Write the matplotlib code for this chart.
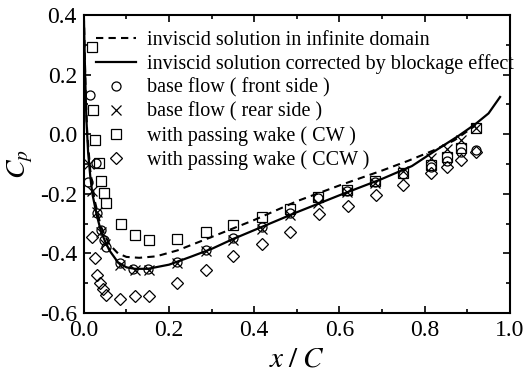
import matplotlib
matplotlib.use("Agg")
import matplotlib.pyplot as plt
from matplotlib.ticker import MultipleLocator

plt.rcParams["font.family"] = ["Liberation Serif", "DejaVu Serif"]
plt.rcParams["mathtext.fontset"] = "stix"

# inviscid solution, infinite domain (dashed)
dash_x = [0.0, 0.004, 0.008, 0.015, 0.025, 0.04, 0.06, 0.08, 0.1, 0.13, 0.17, 0.22,
          0.3, 0.4, 0.5, 0.6, 0.7, 0.76, 0.82, 0.87, 0.92]
dash_y = [0.4, 0.15, 0.0, -0.12, -0.22, -0.31, -0.37, -0.40, -0.412, -0.415, -0.41, -0.39,
          -0.345, -0.288, -0.225, -0.172, -0.122, -0.09, -0.055, -0.02, 0.03]

# inviscid solution corrected by blockage (solid)
solid_x = [0.0, 0.003, 0.006, 0.01, 0.015, 0.02, 0.03, 0.04, 0.05, 0.06, 0.08, 0.1, 0.12,
           0.15, 0.2, 0.25, 0.3, 0.35, 0.4, 0.5, 0.6, 0.7, 0.77, 0.82, 0.88, 0.92, 0.95, 0.977]
solid_y = [0.4, 0.2, 0.05, -0.06, -0.14, -0.2, -0.27, -0.325, -0.36, -0.39, -0.43, -0.447, -0.452,
           -0.452, -0.438, -0.412, -0.385, -0.352, -0.322, -0.262, -0.205, -0.15, -0.107, -0.06,
           -0.005, 0.035, 0.07, 0.125]

front_x = [0.014, 0.028, 0.01, 0.03, 0.04, 0.047, 0.052, 0.085, 0.115, 0.15, 0.218, 0.286,
           0.35, 0.418, 0.484, 0.55, 0.617, 0.683, 0.75, 0.816, 0.852, 0.885, 0.92]
front_y = [0.13, -0.097, -0.16, -0.265, -0.32, -0.355, -0.38, -0.432, -0.452, -0.452, -0.428, -0.39,
           -0.35, -0.31, -0.265, -0.215, -0.19, -0.16, -0.135, -0.11, -0.09, -0.06, -0.053]

rear_x = [0.012, 0.02, 0.03, 0.04, 0.05, 0.085, 0.12, 0.153, 0.218, 0.286, 0.35, 0.418,
          0.484, 0.55, 0.617, 0.683, 0.75, 0.816, 0.852, 0.885, 0.92]
rear_y = [-0.1, -0.19, -0.26, -0.33, -0.37, -0.44, -0.455, -0.455, -0.432, -0.392, -0.355, -0.318,
          -0.27, -0.23, -0.195, -0.165, -0.125, -0.08, -0.05, -0.02, 0.02]

cw_x = [0.019, 0.021, 0.026, 0.035, 0.04, 0.047, 0.052, 0.087, 0.12, 0.153, 0.218, 0.286,
        0.35, 0.418, 0.484, 0.55, 0.617, 0.683, 0.75, 0.816, 0.852, 0.885, 0.92]
cw_y = [0.293, 0.081, -0.02, -0.097, -0.157, -0.197, -0.23, -0.30, -0.34, -0.355, -0.352, -0.328,
        -0.305, -0.278, -0.251, -0.21, -0.187, -0.157, -0.13, -0.105, -0.075, -0.045, 0.02]

ccw_x = [0.018, 0.026, 0.032, 0.037, 0.044, 0.051, 0.086, 0.12, 0.153, 0.219, 0.286, 0.35,
         0.418, 0.484, 0.552, 0.62, 0.686, 0.75, 0.816, 0.852, 0.885, 0.92]
ccw_y = [-0.345, -0.415, -0.472, -0.50, -0.52, -0.54, -0.553, -0.543, -0.543, -0.50, -0.456, -0.41,
         -0.37, -0.33, -0.268, -0.24, -0.204, -0.17, -0.13, -0.11, -0.085, -0.06]

labels = [
    "inviscid solution in infinite domain",
    "inviscid solution corrected by blockage effect",
    "base flow ( front side )",
    "base flow ( rear side )",
    "with passing wake ( CW )",
    "with passing wake ( CCW )",
]

fig = plt.figure(figsize=(5.24, 3.77), dpi=100)
ax = fig.add_axes([0.160, 0.170, 0.813, 0.790])

ax.plot(dash_x, dash_y, "k--", lw=1.5, dashes=(3.5, 2.5), label=labels[0])
ax.plot(solid_x, solid_y, "k-", lw=1.6, label=labels[1])
mk = dict(ls="none", mfc="none", mec="black", mew=0.9)
ax.plot(front_x, front_y, marker="o", ms=6.5, label=labels[2], **mk)
ax.plot(rear_x, rear_y, marker="x", ms=6.5, label=labels[3], **mk)
ax.plot(cw_x, cw_y, marker="s", ms=7, label=labels[4], **mk)
ax.plot(ccw_x, ccw_y, marker="D", ms=6.5, label=labels[5], **mk)

ax.set_xlim(0.0, 1.0)
ax.set_ylim(-0.6, 0.4)
ax.xaxis.set_major_locator(MultipleLocator(0.2))
ax.xaxis.set_minor_locator(MultipleLocator(0.1))
ax.yaxis.set_major_locator(MultipleLocator(0.2))
ax.yaxis.set_minor_locator(MultipleLocator(0.1))
ax.xaxis.set_major_formatter(matplotlib.ticker.FormatStrFormatter("%.1f"))
ax.yaxis.set_major_formatter(matplotlib.ticker.FormatStrFormatter("%.1f"))
ax.tick_params(which="both", direction="in", top=True, right=True, width=1.2)
ax.tick_params(which="major", length=5, labelsize=17, pad=5)
ax.tick_params(which="minor", length=3)
for s in ax.spines.values():
    s.set_linewidth(1.5)

ax.set_xlabel("$x\\;/\\;C$", fontsize=21, labelpad=4)
ax.set_ylabel("$C_p$", fontsize=20, labelpad=3)

leg = ax.legend(loc="upper left", bbox_to_anchor=(0.01, 0.975), frameon=False,
                fontsize=14.5, handlelength=2.0, handletextpad=0.5,
                labelspacing=0.22, borderaxespad=0.0)

fig.savefig("out.png", dpi=100)
